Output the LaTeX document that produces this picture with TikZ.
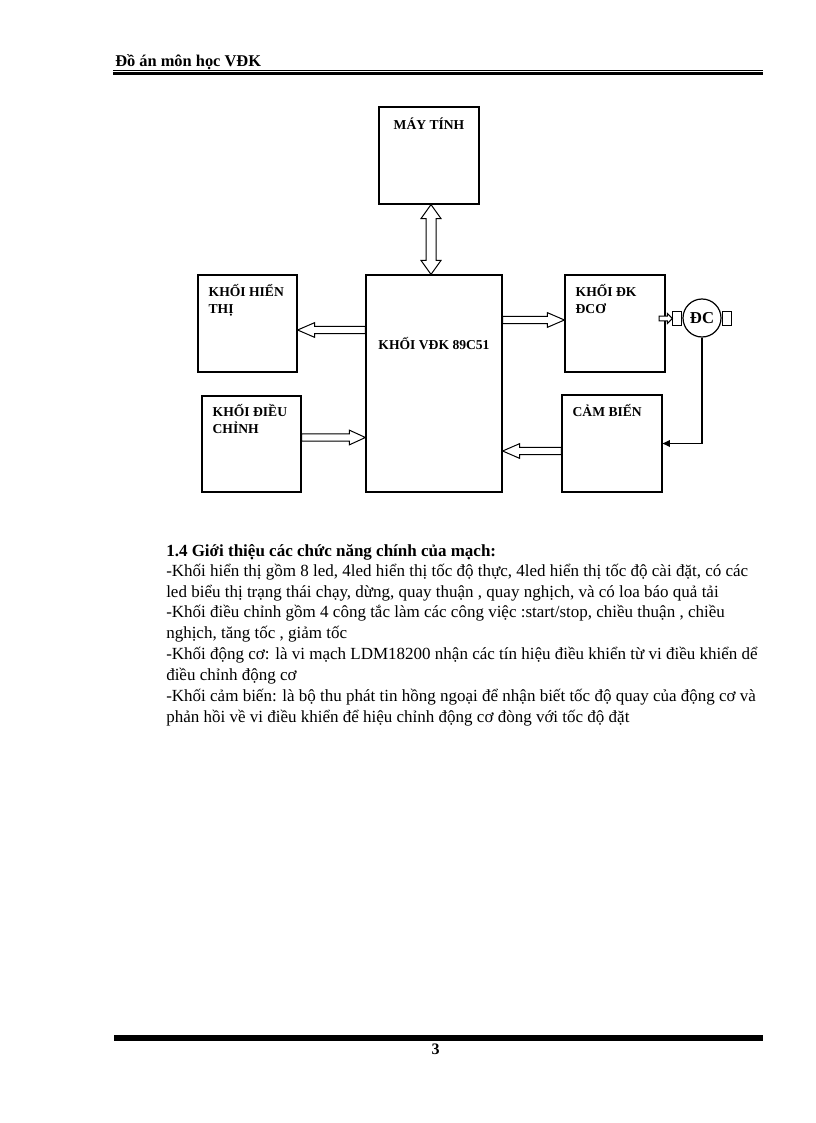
\documentclass[tikz,border=0pt]{standalone}
\usepackage{fontspec}
\setmainfont{Liberation Serif}
\usepackage{tikz}
\usetikzlibrary{arrows.meta,positioning,calc}

% hollow block arrows: start, end, half shaft, half head, head length
\newcommand{\fatarrow}[5]{%
  \draw[fat] ($#1!#3!90:#2$) -- ($#2!#5!#1!#3!90:#2$) -- ($#2!#5!#1!#4!90:#2$) -- #2
    -- ($#2!#5!#1!#4!-90:#2$) -- ($#2!#5!#1!#3!-90:#2$) -- ($#1!#3!-90:#2$) -- cycle;}
\newcommand{\fatdarrow}[5]{%
  \draw[fat] #1 -- ($#1!#5!#2!#4!90:#2$) -- ($#1!#5!#2!#3!90:#2$) -- ($#2!#5!#1!#3!90:#2$)
    -- ($#2!#5!#1!#4!90:#2$) -- #2 -- ($#2!#5!#1!#4!-90:#2$) -- ($#2!#5!#1!#3!-90:#2$)
    -- ($#1!#5!#2!#3!-90:#2$) -- ($#1!#5!#2!#4!-90:#2$) -- cycle;}

\begin{document}
\begin{tikzpicture}[
    x=0.75pt, y=-0.75pt,
    box/.style={rectangle, draw=black, line width=0.9pt, inner sep=0pt},
    lbl/.style={inner sep=0pt, align=left, font=\fontsize{10.2}{12.75}\selectfont\bfseries},
    txt/.style={inner sep=0pt, anchor=base west, font=\fontsize{12.75}{15}\selectfont},
    fat/.style={draw=black, line width=0.75pt, line join=miter, fill=white},
    tab/.style={rectangle, draw=black, line width=0.75pt, minimum width=6.75pt, minimum height=10.5pt, inner sep=0pt},
    sig/.style={-{Triangle[length=5.5pt,width=5pt]}, line width=0.9pt},
]
\useasboundingbox (0,0) rectangle (816,1123);

% page header and footer
\node[inner sep=0pt, anchor=base west, font=\fontsize{12.3}{14}\selectfont\bfseries] (title) at (115,67) {Đồ án môn học VĐK};
\draw[line width=0.5pt] (113,70.3) -- (763,70.3);
\draw[line width=2.25pt] (113,73.6) -- (763,73.6);
\draw[line width=4.5pt] (114,1038) -- (763,1038);
\node[inner sep=0pt, anchor=base, font=\fontsize{12}{14}\selectfont\bfseries] (pageno) at (435.5,1054) {3};

% blocks
\node[box, minimum width=75pt, minimum height=72.75pt] (may) at (429,155.5) {};
\node[box, minimum width=102pt, minimum height=162.75pt] (vdk) at (434,383.5) {};
\node[box, minimum width=74.25pt, minimum height=72.75pt] (hienthi) at (247.5,323.5) {};
\node[box, minimum width=74.25pt, minimum height=72pt] (dieuchinh) at (251.5,444) {};
\node[box, minimum width=75pt, minimum height=72.75pt] (dk) at (615,323.5) {};
\node[box, minimum width=75pt, minimum height=72.75pt] (cambien) at (612,443.5) {};
\node[circle, draw=black, line width=0.9pt, minimum size=28.5pt, inner sep=0pt,
      font=\fontsize{12.5}{14}\selectfont\bfseries] (motor) at (702,318) {ĐC};
\node[tab, left=0pt of motor] (tabl) {};
\node[tab, right=0pt of motor] (tabr) {};

\node[lbl, below=8.25pt of may.north] {MÁY TÍNH};
\node[lbl, below=47.25pt of vdk.north] {KHỐI VĐK 89C51};
\node[lbl, below right=7.5pt and 8.25pt of hienthi.north west] {KHỐI HIỂN\\THỊ};
\node[lbl, below right=6.75pt and 8.25pt of dieuchinh.north west] {KHỐI ĐIỀU\\CHỈNH};
\node[lbl, below right=7.5pt and 8.25pt of dk.north west] {KHỐI ĐK\\ĐCƠ};
\node[lbl, below right=7.5pt and 8.25pt of cambien.north west] {CẢM BIẾN};

% links
\fatdarrow{(may.south -| 431,0)}{(vdk.north -| 431,0)}{3.75pt}{7.5pt}{10.5pt}
\fatarrow{(vdk.west |- 0,330)}{(hienthi.east |- 0,330)}{2.8pt}{5.5pt}{12.75pt}
\fatarrow{(dieuchinh.east |- 0,437.5)}{(vdk.west |- 0,437.5)}{2.8pt}{5.5pt}{12pt}
\fatarrow{(vdk.east |- 0,320)}{(dk.west |- 0,320)}{2.8pt}{5.5pt}{12.75pt}
\fatarrow{(cambien.west |- 0,451)}{(vdk.east |- 0,451)}{2.8pt}{5.5pt}{12.75pt}
\fatarrow{(659,318.5)}{(tabl.west |- 0,318.5)}{1.75pt}{3.75pt}{3.75pt}
\draw[sig] (motor.south) |- (cambien.east);

% text
\node[txt, font=\fontsize{12.75}{15}\selectfont\bfseries] (head) at (166,556) {1.4 Giới thiệu các chức năng chính của mạch:};
\node[txt] (p1a) at (166,576) {-Khối hiển thị gồm 8 led, 4led hiển thị tốc độ thực, 4led hiển thị tốc độ cài đặt, có các};
\node[txt] (p1b) at (166,597) {led biểu thị trạng thái chạy, dừng, quay thuận , quay nghịch, và có loa báo quả tải};
\node[txt] (p2a) at (166,617) {-Khối điều chỉnh gồm 4 công tắc làm các công việc :start/stop, chiều thuận , chiều};
\node[txt] (p2b) at (166,638) {nghịch, tăng tốc , giảm tốc};
\node[txt] (p3a) at (166,659) {-Khối động cơ: là vi mạch LDM18200 nhận các tín hiệu điều khiển từ vi điều khiển dể};
\node[txt] (p3b) at (166,680) {điều chỉnh động cơ};
\node[txt] (p4a) at (166,701) {-Khối cảm biến: là bộ thu phát tin hồng ngoại để nhận biết tốc độ quay của động cơ và};
\node[txt] (p4b) at (166,722) {phản hồi về vi điều khiển để hiệu chỉnh động cơ đòng với tốc độ đặt};
\end{tikzpicture}
\end{document}
